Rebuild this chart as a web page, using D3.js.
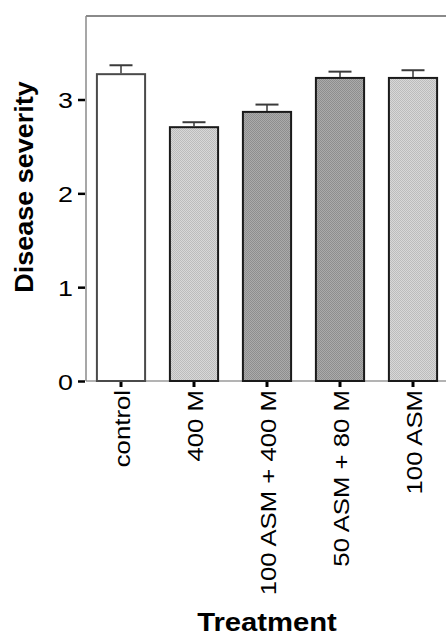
<!DOCTYPE html>
<html>
<head>
<meta charset="utf-8">
<script src="https://cdn.jsdelivr.net/npm/d3@7/dist/d3.min.js"></script>
<style>
  html, body { margin: 0; padding: 0; background: #fff; }
  svg { display: block; }
  text { font-family: "Liberation Sans", Arial, sans-serif; fill: #000; }
</style>
</head>
<body>
<svg id="chart" width="446" height="637"></svg>
<script>
// Disease severity by treatment (mean ± SEM)
const categories = ["control", "400 M", "100 ASM + 400 M", "50 ASM + 80 M", "100 ASM"];
const means      = [3.27, 2.705, 2.868, 3.23, 3.23];
const sems       = [0.095, 0.053, 0.078, 0.067, 0.082];
const fills      = ["white", "light", "dark", "dark", "light"];
const yTicks     = [0, 1, 2, 3];

const svg = d3.select("#chart");
const W = 446, H = 637;
const plot = { left: 86, right: 450, top: 16, bottom: 381 };

// stippled fills
const defs = svg.append("defs");
function checker(id, a, b) {
  const p = defs.append("pattern").attr("id", id)
    .attr("patternUnits", "userSpaceOnUse").attr("width", 2).attr("height", 2);
  p.append("rect").attr("width", 2).attr("height", 2).attr("fill", a);
  p.append("rect").attr("width", 1).attr("height", 1).attr("fill", b);
  p.append("rect").attr("x", 1).attr("y", 1).attr("width", 1).attr("height", 1).attr("fill", b);
}
checker("light", "#d8d8d8", "#bcbcbc");
checker("dark", "#ababab", "#8e8e8e");
const fillOf = f => f === "white" ? "#fff" : `url(#${f})`;

const x = d3.scaleBand().domain(categories)
  .range([plot.left - 1.5, plot.left - 1.5 + 73 * 5]).paddingInner(0.34).paddingOuter(0.17);
const y = d3.scaleLinear().domain([0, 3.89]).range([plot.bottom, plot.top]);

// frame: top and baseline
svg.append("line").attr("x1", plot.left).attr("x2", W).attr("y1", plot.top).attr("y2", plot.top)
  .attr("stroke", "#8a8a8a").attr("stroke-width", 2);
svg.append("line").attr("x1", plot.left).attr("x2", W).attr("y1", plot.bottom).attr("y2", plot.bottom)
  .attr("stroke", "#9a9a9a").attr("stroke-width", 1.5);

// bars
const g = svg.append("g");
g.selectAll("rect.bar").data(categories).join("rect")
  .attr("class", "bar")
  .attr("x", d => x(d))
  .attr("width", x.bandwidth())
  .attr("y", (d, i) => y(means[i]))
  .attr("height", (d, i) => y(0) - y(means[i]))
  .attr("fill", (d, i) => fillOf(fills[i]))
  .attr("stroke", (d, i) => i === 0 ? "#4a4a4a" : "#1a1a1a")
  .attr("stroke-width", 2);

// upper error bars
const capW = 23;
categories.forEach((c, i) => {
  const cx = x(c) + x.bandwidth() / 2;
  g.append("line").attr("x1", cx).attr("x2", cx)
    .attr("y1", y(means[i]) - 1).attr("y2", y(means[i] + sems[i]))
    .attr("stroke", "#3a3a3a").attr("stroke-width", 1.5);
  g.append("line").attr("x1", cx - capW / 2).attr("x2", cx + capW / 2)
    .attr("y1", y(means[i] + sems[i])).attr("y2", y(means[i] + sems[i]))
    .attr("stroke", "#3a3a3a").attr("stroke-width", 2);
});

// y axis
const yAxis = svg.append("g").attr("transform", `translate(${plot.left},0)`)
  .call(d3.axisLeft(y).tickValues(yTicks).tickFormat(d3.format("d")).tickSize(8).tickPadding(4));
yAxis.select(".domain").attr("stroke", "#8a8a8a").attr("stroke-width", 1.5)
  .attr("d", `M0,${plot.top}V${plot.bottom}`);
yAxis.selectAll(".tick line").attr("stroke", "#000").attr("stroke-width", 2.5).attr("x1", -1);
yAxis.selectAll(".tick text").each(function () {
  const t = d3.select(this);
  t.attr("font-size", 22).attr("fill", "#111").attr("dy", null).attr("dominant-baseline", null)
    .attr("x", null)
    .attr("transform", "translate(-13,8) scale(1.22,1)")
    .attr("text-anchor", "end");
});

// x axis
const xAxis = svg.append("g").attr("transform", `translate(0,${plot.bottom})`)
  .call(d3.axisBottom(x).tickSize(6).tickSizeOuter(0));
xAxis.select(".domain").remove();
xAxis.selectAll(".tick line").attr("stroke", "#000").attr("stroke-width", 3).attr("y1", 1);
xAxis.selectAll(".tick text")
  .attr("font-size", 22).attr("fill", "#111")
  .attr("y", null).attr("dy", null)
  .attr("text-anchor", "end")
  .attr("transform", "translate(9,9) rotate(-90) scale(1.17,1)");

// axis titles
svg.append("text").text("Disease severity")
  .attr("font-size", 25).attr("font-weight", "bold").attr("text-anchor", "middle")
  .attr("transform", "translate(33,187) rotate(-90) scale(1.08,1)");
svg.append("text").text("Treatment")
  .attr("font-size", 25).attr("font-weight", "bold").attr("text-anchor", "middle")
  .attr("transform", "translate(267,631) scale(1.17,1)");
</script>
</body>
</html>
